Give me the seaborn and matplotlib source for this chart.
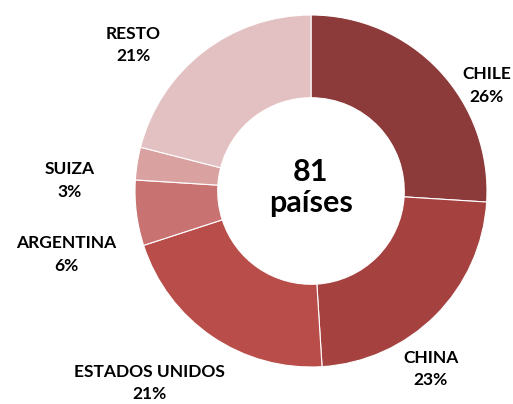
import matplotlib
matplotlib.use('Agg')
import matplotlib.pyplot as plt
import seaborn as sns

sns.set_theme(style='white')
plt.rcParams['font.family'] = ['Lato', 'DejaVu Sans']

paises = ['CHILE', 'CHINA', 'ESTADOS UNIDOS', 'ARGENTINA', 'SUIZA', 'RESTO']
porcentajes = [26, 23, 21, 6, 3, 21]
colores = ['#8C3A3A', '#A54240', '#B84D4A', '#C87371', '#D9A2A1', '#E3C1C2']
total_paises = 81

# label spots (in pie radius units), Excel style outside labels
label_pos = [(1.0, 0.60), (0.68, -1.01), (-0.92, -1.09),
             (-1.39, -0.36), (-1.37, 0.06), (-1.01, 0.83)]

fig = plt.figure(figsize=(5.13, 4.04), dpi=100)
ax = fig.add_axes([0, 0, 1, 1])

wedges, texts = ax.pie(porcentajes, labels=[f'{p}\n{v}%' for p, v in zip(paises, porcentajes)],
                       colors=colores, startangle=90, counterclock=False, radius=1,
                       wedgeprops=dict(width=0.47, edgecolor='white', linewidth=0.8),
                       textprops=dict(fontsize=12.5, fontweight='bold', color='black'))

for t, (x, y) in zip(texts, label_pos):
    t.set_position((x, y))
    t.set_ha('center')
    t.set_va('center')
    t.set_multialignment('center')
    t.set_linespacing(1.5)

ax.text(0, 0.02, f'{total_paises}\npaíses', ha='center', va='center', fontsize=22,
        fontweight='bold', color='black', linespacing=1.15)

ax.set_xlim(-311 / 176, (513 - 311) / 176)
ax.set_ylim(-(404 - 191) / 176, 191 / 176)
ax.set_aspect('auto')
ax.axis('off')

fig.savefig('out.png', dpi=100)
